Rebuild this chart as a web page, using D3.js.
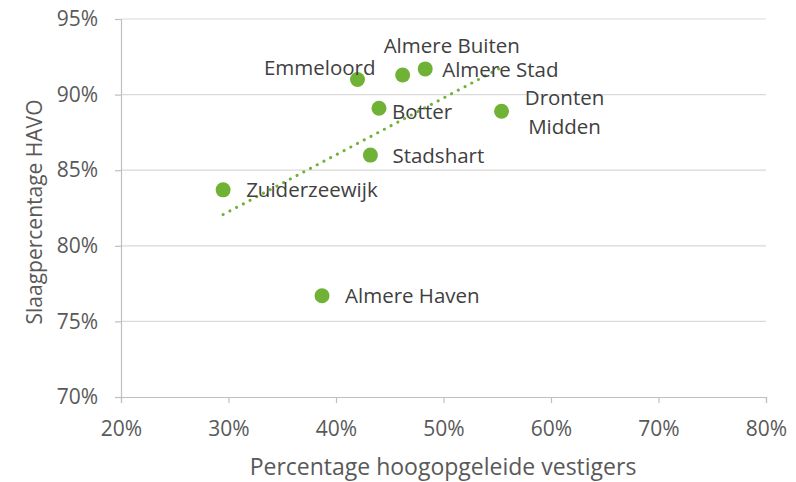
<!DOCTYPE html>
<html>
<head>
<meta charset="utf-8">
<script src="https://cdn.jsdelivr.net/npm/d3@7"></script>
<style>
  body { margin: 0; background: #fff; }
  text { font-family: "Open Sans", Lato, sans-serif; }
</style>
</head>
<body>
<script>
// data
var names = ['Emmeloord','Almere Buiten','Almere Stad','Botter','Dronten Midden','Stadshart','Zuiderzeewijk','Almere Haven'];
var hoogopgeleid = [0.420, 0.462, 0.483, 0.440, 0.554, 0.432, 0.295, 0.387];
var slaag = [0.910, 0.913, 0.917, 0.891, 0.889, 0.860, 0.837, 0.767];
var xTicks = [0.2, 0.3, 0.4, 0.5, 0.6, 0.7, 0.8];
var yTicks = [0.70, 0.75, 0.80, 0.85, 0.90, 0.95];

// label placement (pixel offsets from point, like the manual positions in the original)
var labelPos = [
  {dx: 18, dy: -12, anchor: 'end'},
  {dx: -19, dy: -29, anchor: 'start'},
  {dx: 17, dy: 1, anchor: 'start'},
  {dx: 13, dy: 4, anchor: 'start'},
  {dx: 63, dy: -13, anchor: 'middle'},
  {dx: 22, dy: 1, anchor: 'start'},
  {dx: 23, dy: 0, anchor: 'start'},
  {dx: 23, dy: 0, anchor: 'start'}
];

var svgWidth = 796, svgHeight = 482;
var margin = {top: 19, right: 30, bottom: 85, left: 121};
var green = '#70b236';

var svg = d3.select('body').append('svg')
  .attr('width', svgWidth)
  .attr('height', svgHeight);

var x = d3.scaleLinear()
  .domain([0.2, 0.8])
  .range([margin.left, 766]);
var y = d3.scaleLinear()
  .domain([0.70, 0.95])
  .range([397, margin.top]);

// gridlines
svg.append('g').selectAll('line')
  .data(yTicks.slice(1))
  .enter().append('line')
    .attr('x1', x(0.2)).attr('x2', x(0.8))
    .attr('y1', function(d) { return y(d); })
    .attr('y2', function(d) { return y(d); })
    .attr('stroke', '#d9d9d9')
    .attr('stroke-width', 1.2);

var fmt = d3.format('.0%');

var xAxis = svg.append('g')
  .attr('transform', 'translate(0,' + y(0.70) + ')')
  .call(d3.axisBottom(x).tickValues(xTicks).tickFormat(fmt).tickSize(6).tickPadding(18));
var yAxis = svg.append('g')
  .attr('transform', 'translate(' + x(0.2) + ',0)')
  .call(d3.axisLeft(y).tickValues(yTicks).tickFormat(fmt).tickSize(6).tickPadding(17));

[xAxis, yAxis].forEach(function(a) {
  a.select('.domain').attr('stroke', '#bfbfbf').attr('stroke-width', 1.2);
  a.selectAll('.tick line').attr('stroke', '#bfbfbf').attr('stroke-width', 1.2);
  a.selectAll('.tick text')
    .attr('fill', '#595959')
    .style('font-size', '21px');
});

// linear trendline (least squares)
var mx = d3.mean(hoogopgeleid), my = d3.mean(slaag);
var sxy = d3.sum(hoogopgeleid, function(d, i) { return (d - mx) * (slaag[i] - my); });
var sxx = d3.sum(hoogopgeleid, function(d) { return (d - mx) * (d - mx); });
var slope = sxy / sxx, icpt = my - slope * mx;
var xr = d3.extent(hoogopgeleid);
svg.append('line')
  .attr('x1', x(xr[0])).attr('y1', y(icpt + slope * xr[0]))
  .attr('x2', x(xr[1])).attr('y2', y(icpt + slope * xr[1]))
  .attr('stroke', green)
  .attr('stroke-width', 3)
  .attr('stroke-linecap', 'round')
  .attr('stroke-dasharray', '0.1 7.5');

// points
svg.append('g').selectAll('circle')
  .data(names)
  .enter().append('circle')
    .attr('cx', function(d, i) { return x(hoogopgeleid[i]); })
    .attr('cy', function(d, i) { return y(slaag[i]); })
    .attr('r', 7.5)
    .attr('fill', green);

// labels
svg.append('g').selectAll('text')
  .data(names)
  .enter().append('text')
    .attr('x', function(d, i) { return x(hoogopgeleid[i]) + labelPos[i].dx; })
    .attr('y', function(d, i) { return y(slaag[i]) + labelPos[i].dy; })
    .attr('dy', '0.35em')
    .attr('text-anchor', function(d, i) { return labelPos[i].anchor; })
    .attr('fill', '#404040')
    .style('font-size', '20.5px')
    .each(function(d) {
      var t = d3.select(this);
      if (d === 'Dronten Midden') {
        t.append('tspan').attr('x', t.attr('x')).text('Dronten');
        t.append('tspan').attr('x', t.attr('x')).attr('dy', '1.4em').text('Midden');
      } else {
        t.text(d);
      }
    });

// axis titles
svg.append('text')
  .attr('x', 443)
  .attr('y', 467)
  .attr('dy', '0.35em')
  .attr('text-anchor', 'middle')
  .attr('fill', '#595959')
  .style('font-size', '23px')
  .text('Percentage hoogopgeleide vestigers');

svg.append('text')
  .attr('transform', 'translate(35,212) rotate(-90)')
  .attr('dy', '0.35em')
  .attr('text-anchor', 'middle')
  .attr('fill', '#595959')
  .style('font-size', '21px')
  .text('Slaagpercentage HAVO');
</script>
</body>
</html>
